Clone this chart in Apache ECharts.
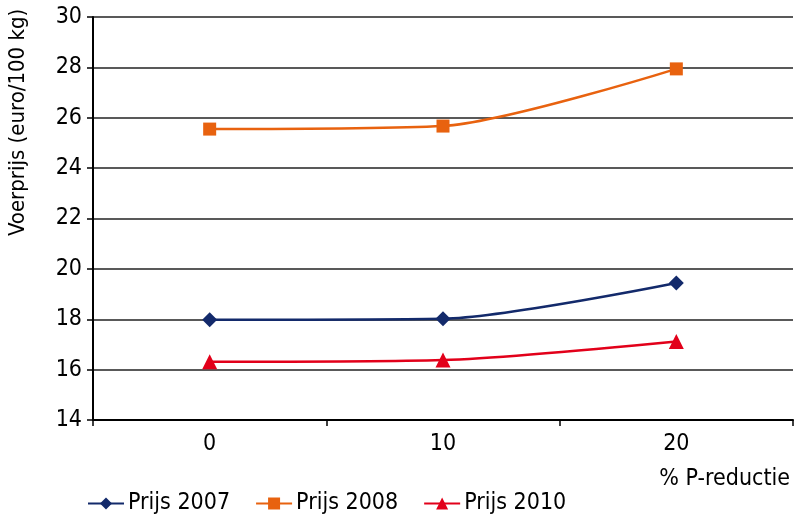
<!DOCTYPE html>
<html><head><meta charset="utf-8">
<script src="https://cdn.jsdelivr.net/npm/echarts@6/dist/echarts.min.js"></script>
<style>html,body{margin:0;padding:0;background:#fff}#c{width:794px;height:514px}</style>
</head><body><div id="c"></div>
<script>
var categories = ['0', '10', '20'];
var prijs2007 = [17.98, 18.02, 19.44];
var prijs2008 = [25.55, 25.67, 27.94];
var prijs2010 = [16.31, 16.38, 17.12];
var seriesNames = ['Prijs 2007', 'Prijs 2008', 'Prijs 2010'];
var FONT = '"DejaVu Sans Condensed", "Liberation Sans Narrow", sans-serif';
var chart = echarts.init(document.getElementById('c'));
function mk(name, data, color, symbol, size) {
  return { name: name, type: 'line', data: data, smooth: 0.25, symbol: symbol, symbolSize: size,
    lineStyle: { color: color, width: 2.5 }, itemStyle: { color: color }, z: 3 };
}
chart.setOption({
  animation: false,
  textStyle: { fontFamily: FONT },
  grid: { left: 93, right: 1, top: 17, bottom: 94 },
  legend: {
    left: 82, top: 487, itemWidth: 36, itemHeight: 15, itemGap: 25,
    textStyle: { fontSize: 23, color: '#000', fontFamily: FONT, padding: [0, 0, 0, -1] },
    data: seriesNames
  },
  xAxis: {
    type: 'category', data: categories, boundaryGap: true,
    name: '% P-reductie', nameLocation: 'end', nameGap: 0,
    nameTextStyle: { fontSize: 23, color: '#000', align: 'right', verticalAlign: 'top', padding: [48, 3, 0, 0], fontFamily: FONT },
    axisLine: { lineStyle: { color: '#000', width: 2 } },
    axisTick: { show: true, length: 6, lineStyle: { color: '#000', width: 1.5 } },
    axisLabel: { fontSize: 23, color: '#000', margin: 13, fontFamily: FONT }
  },
  yAxis: {
    type: 'value', min: 14, max: 30, interval: 2,
    axisLine: { show: true, lineStyle: { color: '#000', width: 2 } },
    axisTick: { show: true, length: 6, lineStyle: { color: '#000', width: 1.5 } },
    axisLabel: { fontSize: 23, color: '#000', margin: 11, fontFamily: FONT },
    splitLine: { lineStyle: { color: '#222', width: 1.5 } }
  },
  graphic: [{
    type: 'text', x: 18, y: 236, rotation: Math.PI / 2,
    style: { text: 'Voerprijs (euro/100 kg)', font: '22px ' + FONT, fill: '#000', textAlign: 'left', textVerticalAlign: 'middle' }
  }],
  series: [
    mk(seriesNames[0], prijs2007, '#132a6b', 'diamond', 15),
    mk(seriesNames[1], prijs2008, '#e8620f', 'rect', 13),
    mk(seriesNames[2], prijs2010, '#e2001a', 'triangle', 15)
  ]
});
</script></body></html>
